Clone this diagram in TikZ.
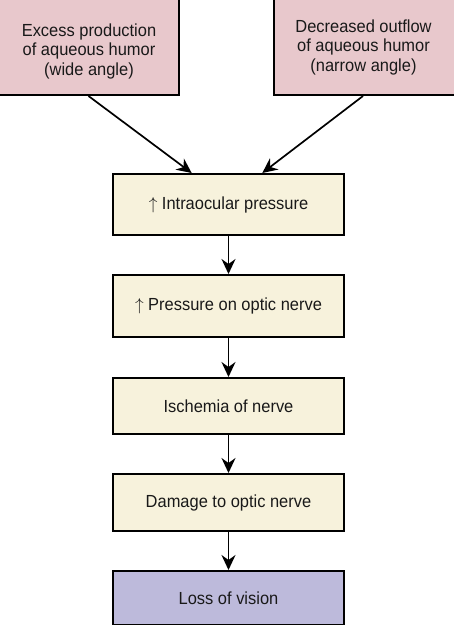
\documentclass[tikz,border=0pt]{standalone}
\usepackage{fontspec}
\setmainfont{Liberation Sans}[FakeStretch=0.94]
\usetikzlibrary{arrows.meta,calc}
\definecolor{pinkfill}{RGB}{232,200,204}
\definecolor{creamfill}{RGB}{247,242,220}
\definecolor{lavfill}{RGB}{189,186,219}
\definecolor{inkc}{RGB}{25,25,25}
\begin{document}
\begin{tikzpicture}[x=1pt,y=-1pt,
  txtfont/.style={font=\fontsize{17.5}{19.5}\selectfont, text=inkc},
  box/.style={draw=black, line width=2pt, minimum width=231pt, inner sep=0pt, align=center, txtfont},
  topbox/.style={draw=black, line width=2pt, fill=pinkfill, inner sep=0pt, minimum width=181pt, minimum height=98pt},
  txt/.style={inner sep=0pt, align=center, txtfont},
  arr/.style={draw=black, line width=1.7pt, -{Stealth[length=15pt,width=14pt,inset=5pt]}}]
\useasboundingbox (0,0) rectangle (454,625);
\clip (0,0) rectangle (454,625);
% top boxes
\node[topbox] (a) at (88.5,46) {};
\node[txt] (at) at (89,51) {Excess production\\of aqueous humor\\(wide angle)};
\node[topbox] (b) at (364,46) {};
\node[txt] (bt) at (363.5,47) {Decreased outflow\\of aqueous humor\\(narrow angle)};
% chain
\node[box, fill=creamfill, minimum height=61pt] (c1) at (228.5,204.5) {$\uparrow$ Intraocular pressure};
\node[box, fill=creamfill, minimum height=62pt] (c2) at (228.5,306) {$\uparrow$ Pressure on optic nerve};
\node[box, fill=creamfill, minimum height=56pt] (c3) at (228.5,406) {Ischemia of nerve};
\node[box, fill=creamfill, minimum height=57pt] (c4) at (228.5,502.5) {Damage to optic nerve};
\node[box, fill=lavfill, minimum height=54pt] (c5) at (228.5,598) {Loss of vision};
\coordinate (c1l) at ($(c1.north west)!0.342!(c1.north east)$);
\coordinate (c1r) at ($(c1.north west)!0.645!(c1.north east)$);
\draw[arr] (a.south) -- (c1l);
\draw[arr] (b.south -| 363,0) -- (c1r);
\draw[arr] (c1.south) -- (c2.north);
\draw[arr] (c2.south) -- (c3.north);
\draw[arr] (c3.south) -- (c4.north);
\draw[arr] (c4.south) -- (c5.north);
\end{tikzpicture}
\end{document}
